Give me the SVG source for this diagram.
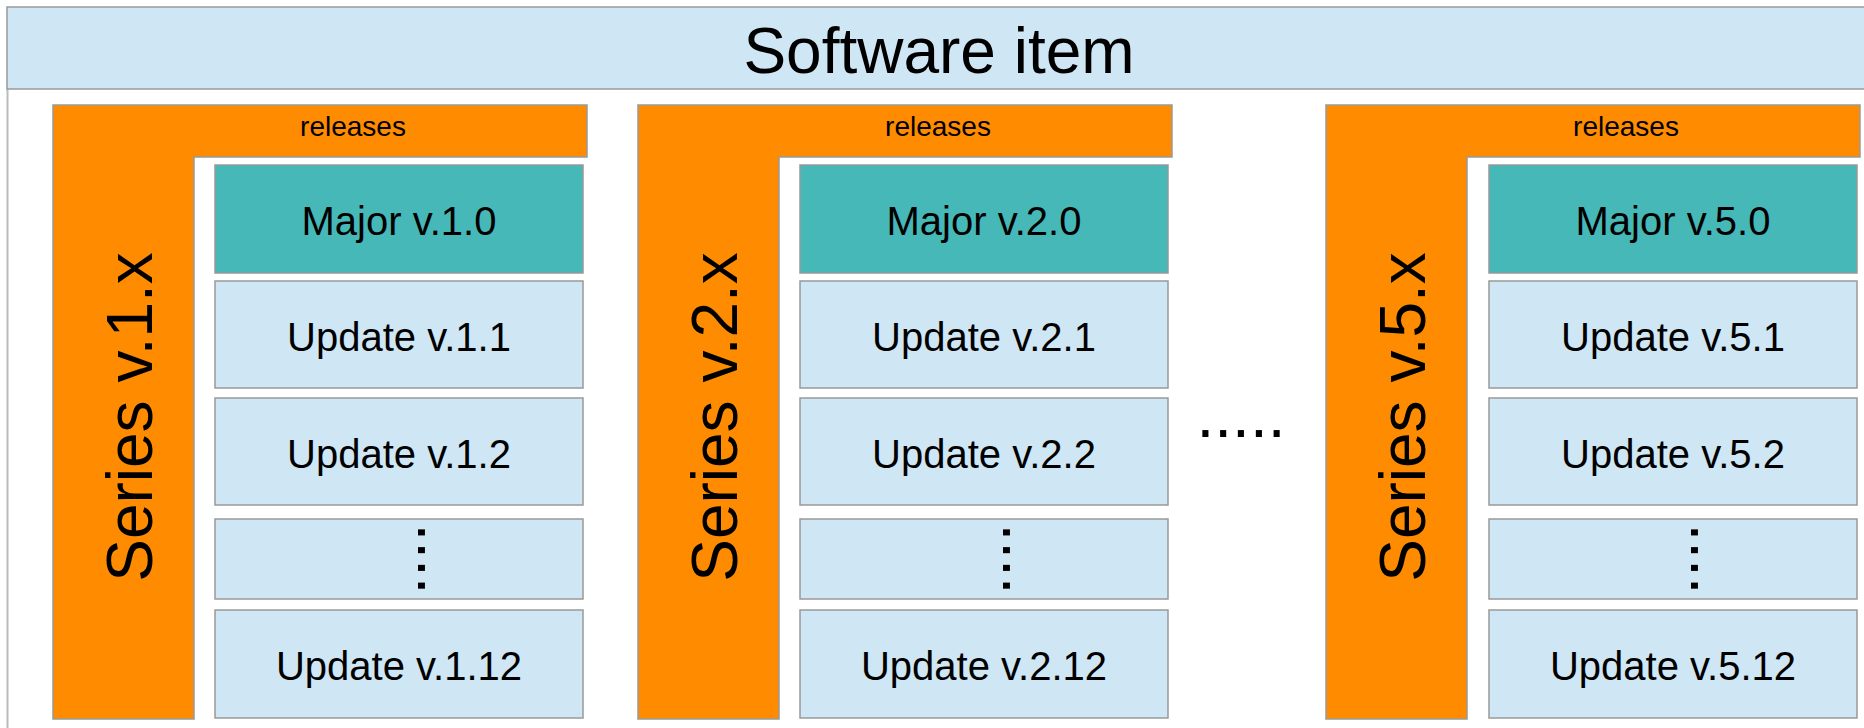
<svg xmlns="http://www.w3.org/2000/svg" width="1864" height="728" viewBox="0 0 1864 728">
<style>
.hdr{fill:#cfe6f4;stroke:#999;stroke-width:1.5}
.ser{fill:#ff8c00;stroke:#999;stroke-width:1.5}
.maj{fill:#46b8b8;stroke:#999;stroke-width:1.5}
.upd{fill:#cfe6f4;stroke:#999;stroke-width:1.5}
text{font-family:"Liberation Sans",Arial,sans-serif;fill:#000}
.t40{font-size:40px;text-anchor:middle}
.t28{font-size:28px;text-anchor:middle}
.t64{font-size:64px;text-anchor:middle}
.dots{font-size:64px}
</style>
<rect width="1864" height="728" fill="#fff"/>
<g id="software-item">
<line x1="7.5" y1="89" x2="7.5" y2="728" stroke="#bbb" stroke-width="2"/>
<rect class="hdr" x="7" y="7" width="1862" height="82"/>
<text class="t64" x="939" y="73">Software item</text>
</g>
<g id="series-1">
<polygon class="ser" points="53,105 587,105 587,157 194,157 194,719 53,719"/>
<text class="t28" x="353" y="136">releases</text>
<text class="t64" transform="translate(152,417) rotate(-90)" x="0" y="0">Series v.1.x</text>
<g id="major-1-0"><rect class="maj" x="215" y="165" width="368" height="108"/><text class="t40" x="399" y="235">Major v.1.0</text></g>
<g id="update-1-1"><rect class="upd" x="215" y="281" width="368" height="107"/><text class="t40" x="399" y="351">Update v.1.1</text></g>
<g id="update-1-2"><rect class="upd" x="215" y="398" width="368" height="107"/><text class="t40" x="399" y="468">Update v.1.2</text></g>
<g id="more-1"><rect class="upd" x="215" y="519" width="368" height="80"/><text class="dots" transform="translate(418,523.4) rotate(90)">....</text></g>
<g id="update-1-12"><rect class="upd" x="215" y="610" width="368" height="108"/><text class="t40" x="399" y="680">Update v.1.12</text></g>
</g>
<g id="series-2">
<polygon class="ser" points="638,105 1172,105 1172,157 779,157 779,719 638,719"/>
<text class="t28" x="938" y="136">releases</text>
<text class="t64" transform="translate(737,417) rotate(-90)" x="0" y="0">Series v.2.x</text>
<g id="major-2-0"><rect class="maj" x="800" y="165" width="368" height="108"/><text class="t40" x="984" y="235">Major v.2.0</text></g>
<g id="update-2-1"><rect class="upd" x="800" y="281" width="368" height="107"/><text class="t40" x="984" y="351">Update v.2.1</text></g>
<g id="update-2-2"><rect class="upd" x="800" y="398" width="368" height="107"/><text class="t40" x="984" y="468">Update v.2.2</text></g>
<g id="more-2"><rect class="upd" x="800" y="519" width="368" height="80"/><text class="dots" transform="translate(1003,523.4) rotate(90)">....</text></g>
<g id="update-2-12"><rect class="upd" x="800" y="610" width="368" height="108"/><text class="t40" x="984" y="680">Update v.2.12</text></g>
</g>
<g id="ellipsis"><text class="t64" x="1241" y="437">.....</text></g>
<g id="series-5">
<polygon class="ser" points="1326,105 1860,105 1860,157 1467,157 1467,719 1326,719"/>
<text class="t28" x="1626" y="136">releases</text>
<text class="t64" transform="translate(1425,417) rotate(-90)" x="0" y="0">Series v.5.x</text>
<g id="major-5-0"><rect class="maj" x="1489" y="165" width="368" height="108"/><text class="t40" x="1673" y="235">Major v.5.0</text></g>
<g id="update-5-1"><rect class="upd" x="1489" y="281" width="368" height="107"/><text class="t40" x="1673" y="351">Update v.5.1</text></g>
<g id="update-5-2"><rect class="upd" x="1489" y="398" width="368" height="107"/><text class="t40" x="1673" y="468">Update v.5.2</text></g>
<g id="more-5"><rect class="upd" x="1489" y="519" width="368" height="80"/><text class="dots" transform="translate(1691,523.4) rotate(90)">....</text></g>
<g id="update-5-12"><rect class="upd" x="1489" y="610" width="368" height="108"/><text class="t40" x="1673" y="680">Update v.5.12</text></g>
</g>
<g id="connectors"></g>
</svg>
